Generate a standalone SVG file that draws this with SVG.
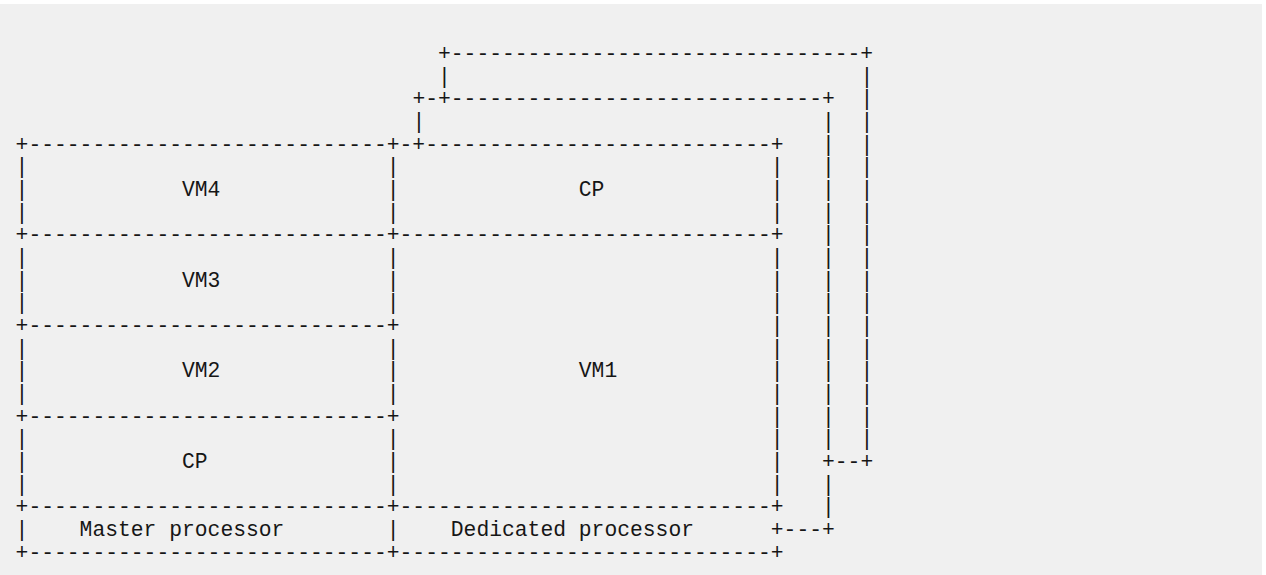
<svg xmlns="http://www.w3.org/2000/svg" width="1266" height="575" viewBox="0 0 1266 575">
<style>
text{font-family:"Liberation Mono","DejaVu Sans Mono",monospace;font-size:21.333px;fill:#161616;white-space:pre}
</style>
<rect x="0" y="0" width="1266" height="575" fill="#ffffff"/>
<rect x="0" y="4" width="1262" height="571" fill="#f0f0f0"/>
<g id="connectors">
<text y="60"><tspan x="438">+--------------------------------+</tspan></text>
<text y="82.67"><tspan x="438">|</tspan><tspan x="860.4">|</tspan></text>
<text y="105.33"><tspan x="412.4">+-+-----------------------------+</tspan><tspan x="860.4">|</tspan></text>
<text y="128"><tspan x="412.4">|</tspan><tspan x="822">|</tspan><tspan x="860.4">|</tspan></text>
<text y="150.67"><tspan x="15.6">+----------------------------+-+---------------------------+</tspan><tspan x="822">|</tspan><tspan x="860.4">|</tspan></text>
<text y="173.33"><tspan x="15.6">|</tspan><tspan x="386.8">|</tspan><tspan x="770.8">|</tspan><tspan x="822">|</tspan><tspan x="860.4">|</tspan></text>
<text y="196"><tspan x="15.6">|</tspan><tspan x="386.8">|</tspan><tspan x="770.8">|</tspan><tspan x="822">|</tspan><tspan x="860.4">|</tspan></text>
<text y="218.67"><tspan x="15.6">|</tspan><tspan x="386.8">|</tspan><tspan x="770.8">|</tspan><tspan x="822">|</tspan><tspan x="860.4">|</tspan></text>
<text y="241.33"><tspan x="15.6">+----------------------------+-----------------------------+</tspan><tspan x="822">|</tspan><tspan x="860.4">|</tspan></text>
<text y="264"><tspan x="15.6">|</tspan><tspan x="386.8">|</tspan><tspan x="770.8">|</tspan><tspan x="822">|</tspan><tspan x="860.4">|</tspan></text>
<text y="286.67"><tspan x="15.6">|</tspan><tspan x="386.8">|</tspan><tspan x="770.8">|</tspan><tspan x="822">|</tspan><tspan x="860.4">|</tspan></text>
<text y="309.33"><tspan x="15.6">|</tspan><tspan x="386.8">|</tspan><tspan x="770.8">|</tspan><tspan x="822">|</tspan><tspan x="860.4">|</tspan></text>
<text y="332"><tspan x="15.6">+----------------------------+</tspan><tspan x="770.8">|</tspan><tspan x="822">|</tspan><tspan x="860.4">|</tspan></text>
<text y="354.67"><tspan x="15.6">|</tspan><tspan x="386.8">|</tspan><tspan x="770.8">|</tspan><tspan x="822">|</tspan><tspan x="860.4">|</tspan></text>
<text y="377.33"><tspan x="15.6">|</tspan><tspan x="386.8">|</tspan><tspan x="770.8">|</tspan><tspan x="822">|</tspan><tspan x="860.4">|</tspan></text>
<text y="400"><tspan x="15.6">|</tspan><tspan x="386.8">|</tspan><tspan x="770.8">|</tspan><tspan x="822">|</tspan><tspan x="860.4">|</tspan></text>
<text y="422.67"><tspan x="15.6">+----------------------------+</tspan><tspan x="770.8">|</tspan><tspan x="822">|</tspan><tspan x="860.4">|</tspan></text>
<text y="445.33"><tspan x="15.6">|</tspan><tspan x="386.8">|</tspan><tspan x="770.8">|</tspan><tspan x="822">|</tspan><tspan x="860.4">|</tspan></text>
<text y="468"><tspan x="15.6">|</tspan><tspan x="386.8">|</tspan><tspan x="770.8">|</tspan><tspan x="822">+--+</tspan></text>
<text y="490.67"><tspan x="15.6">|</tspan><tspan x="386.8">|</tspan><tspan x="770.8">|</tspan><tspan x="822">|</tspan></text>
<text y="513.33"><tspan x="15.6">+----------------------------+-----------------------------+</tspan><tspan x="822">|</tspan></text>
<text y="536"><tspan x="15.6">|</tspan><tspan x="386.8">|</tspan><tspan x="770.8">+---+</tspan></text>
<text y="558.67"><tspan x="15.6">+----------------------------+-----------------------------+</tspan></text>
</g>
<g id="master-vm4"><text x="182" y="196">VM4</text></g>
<g id="dedicated-cp"><text x="578.8" y="196">CP</text></g>
<g id="master-vm3"><text x="182" y="286.67">VM3</text></g>
<g id="master-vm2"><text x="182" y="377.33">VM2</text></g>
<g id="dedicated-vm1"><text x="578.8" y="377.33">VM1</text></g>
<g id="master-cp"><text x="182" y="468">CP</text></g>
<g id="master-processor"><text x="79.6" y="536">Master processor</text></g>
<g id="dedicated-processor"><text x="450.8" y="536">Dedicated processor</text></g>
</svg>
